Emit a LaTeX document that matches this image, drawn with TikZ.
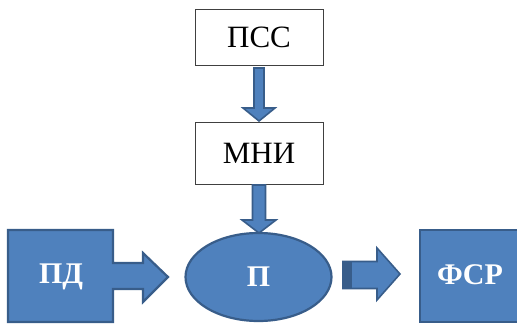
\documentclass[tikz,border=0pt]{standalone}
\usepackage{fontspec}
\setmainfont{Liberation Serif}
\definecolor{bfill}{HTML}{4F81BD}
\definecolor{bdraw}{HTML}{385D8A}
\begin{document}
\begin{tikzpicture}[x=1pt,y=-1pt,
  wbox/.style={draw=black!75,line width=0.8pt,fill=white,minimum width=128pt,minimum height=56pt,inner sep=0pt,font=\fontsize{31}{33}\selectfont},
  bshape/.style={fill=bfill,draw=bdraw,line width=2.2pt,line join=miter},
  btext/.style={text=white,font=\fontsize{30}{32}\selectfont\bfseries,inner sep=0pt},
  barrow/.style={fill=bfill,draw=bdraw,line width=1.6pt,line join=miter}]
\useasboundingbox (0,0) rectangle (517,324);
% top boxes
\node[wbox] (pss) at (259,37) {ПСС};
\node[wbox,minimum height=62pt] (mni) at (259,153) {МНИ};
% ellipse
\draw[bshape] (258.5,277) ellipse [x radius=73, y radius=44];
\node[btext] (p) at (258.5,277) {П};
% down arrows
\draw[barrow] (254,68) -- (254,108) -- (243,108) -- (259,121) -- (275,108) -- (264,108) -- (264,68) -- cycle;
\draw[barrow] (252.5,185) -- (252.5,220) -- (242,220) -- (259,233) -- (276,220) -- (265.5,220) -- (265.5,185) -- cycle;
% ПД callout
\draw[bshape] (8,230) -- (113,230) -- (113,263) -- (143,263) -- (143,253) -- (168,277) -- (143,302) -- (143,289) -- (113,289) -- (113,322) -- (8,322) -- cycle;
\node[btext] (pd) at (61,277) {ПД};
% striped arrow
\draw[barrow] (343,261.5) -- (377,261.5) -- (377,248) -- (400,274) -- (377,300) -- (377,288.5) -- (343,288.5) -- cycle;
\fill[bdraw] (343,261.5) rectangle (352,288.5);
% ФСР box
\draw[bshape] (420,230) -- (530,230) -- (530,322) -- (420,322) -- cycle;
\node[btext] (fsr) at (470,275) {ФСР};
\end{tikzpicture}
\end{document}
